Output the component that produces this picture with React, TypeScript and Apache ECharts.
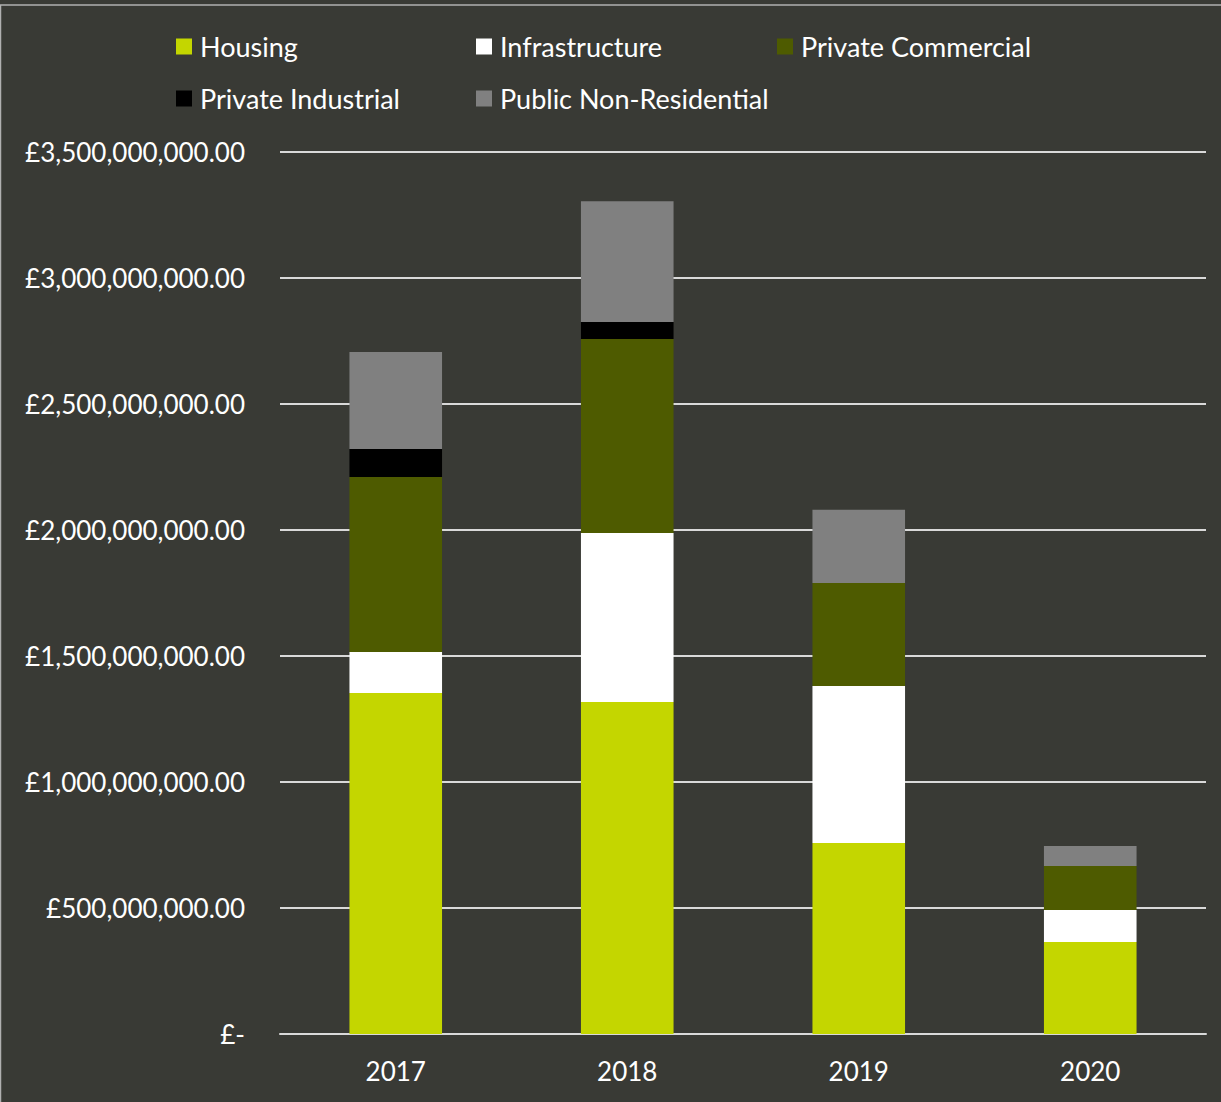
import React, { useEffect, useRef } from "react";
import * as echarts from "echarts";

const years = ["2017", "2018", "2019", "2020"];
const housing = [1353e6, 1317e6, 758e6, 365e6];
const infrastructure = [163e6, 671e6, 623e6, 127e6];
const privateCommercial = [694e6, 770e6, 409e6, 175e6];
const privateIndustrial = [111e6, 67e6, 0, 0];
const publicNonResidential = [385e6, 480e6, 290e6, 79e6];

const seriesNames = ["Housing", "Infrastructure", "Private Commercial", "Private Industrial", "Public Non-Residential"];
const seriesColors = ["#c4d600", "#ffffff", "#4e5b00", "#000000", "#808080"];
const seriesData = [housing, infrastructure, privateCommercial, privateIndustrial, publicNonResidential];

const FONT = "Lato";

function fmt(v: number) {
  if (v === 0) return "£-";
  return "£" + v.toLocaleString("en-GB") + ".00";
}

export default function App() {
  const ref = useRef<HTMLDivElement>(null);
  useEffect(() => {
    document.body.style.margin = "0";
    const chart = echarts.init(ref.current!, undefined, { renderer: "svg" });
    const legendPos = [
      { left: 176, top: 33 },
      { left: 476, top: 33 },
      { left: 777, top: 33 },
      { left: 176, top: 85 },
      { left: 476, top: 85 },
    ];
    chart.setOption({
      animation: false,
      backgroundColor: "#393a35",
      textStyle: { fontFamily: FONT },
      graphic: [
        {
          type: "rect",
          shape: { x: 0.5, y: 5, width: 1240, height: 1200 },
          style: { fill: "none", stroke: "#b0b0b0", lineWidth: 1.5 },
          silent: true,
        },
      ],
      legend: seriesNames.map((n, i) => ({
        data: [n],
        left: legendPos[i].left,
        top: legendPos[i].top,
        icon: "rect",
        itemWidth: 16,
        itemHeight: 16,
        itemGap: 0,
        padding: 0,
        textStyle: { color: "#ffffff", fontSize: 27, fontFamily: FONT, padding: [0, 0, 0, 3] },
        selectedMode: false,
      })),
      grid: { left: 280, right: 15, top: 152, bottom: 68, containLabel: false },
      xAxis: {
        type: "category",
        data: years,
        axisLine: { show: true, lineStyle: { color: "#d9d9d9", width: 2 } },
        axisTick: { show: false },
        axisLabel: { color: "#ffffff", fontSize: 26, margin: 24, fontFamily: FONT },
      },
      yAxis: {
        type: "value",
        min: 0,
        max: 3500000000,
        interval: 500000000,
        axisLine: { show: false },
        axisTick: { show: false },
        splitLine: { lineStyle: { color: "#d9d9d9", width: 2 } },
        axisLabel: {
          color: "#ffffff",
          fontSize: 26,
          margin: 35,
          fontFamily: FONT,
          formatter: (v: number) => fmt(v),
        },
      },
      series: seriesNames.map((n, i) => ({
        name: n,
        type: "bar",
        stack: "total",
        barWidth: "40%",
        data: seriesData[i],
        itemStyle: { color: seriesColors[i] },
      })),
    });
    return () => chart.dispose();
  }, []);
  return <div ref={ref} style={{ width: 1221, height: 1102 }} />;
}
